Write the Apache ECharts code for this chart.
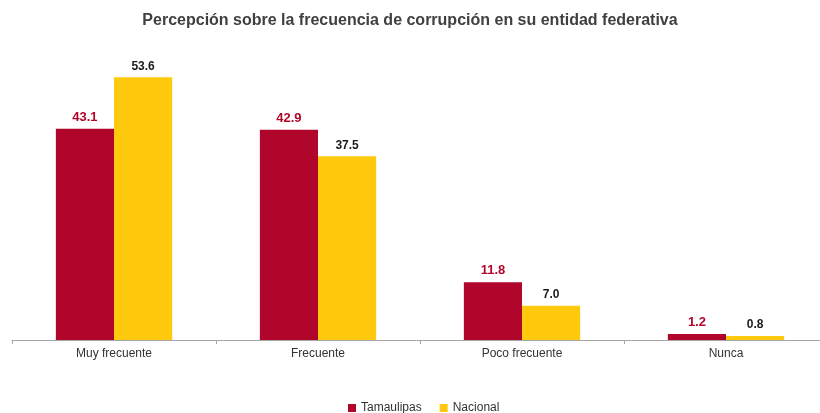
<!DOCTYPE html>
<html>
<head>
<meta charset="utf-8">
<script src="https://cdn.jsdelivr.net/npm/echarts@6/dist/echarts.min.js"></script>
<style>
  html, body { margin: 0; padding: 0; background: #fff; }
  #chart { width: 820px; height: 413px; }
</style>
</head>
<body>
<div id="chart"></div>
<script>
const categories = ['Muy frecuente', 'Frecuente', 'Poco frecuente', 'Nunca'];
const tamaulipas = [43.1, 42.9, 11.8, 1.2];
const nacional = [53.6, 37.5, 7.0, 0.8];

const chart = echarts.init(document.getElementById('chart'));

const fontFamily = '"Liberation Sans", Arial, sans-serif';

const option = {
  backgroundColor: '#ffffff',
  animation: false,
  textStyle: { fontFamily: fontFamily },
  title: {
    text: 'Percepción sobre la frecuencia de corrupción en su entidad federativa',
    left: 'center',
    top: 8,
    textStyle: { fontSize: 16, fontWeight: 'bold', color: '#404040', fontFamily: fontFamily }
  },
  legend: {
    top: 397,
    left: 343,
    itemWidth: 8,
    itemHeight: 8,
    itemGap: 18,
    icon: 'rect',
    textStyle: { fontSize: 12, color: '#333', fontFamily: fontFamily },
    data: ['Tamaulipas', 'Nacional']
  },
  grid: { left: 12, width: 816, top: 46, bottom: 73, outerBoundsMode: 'none' },
  xAxis: {
    type: 'category',
    data: categories,
    axisLine: { lineStyle: { color: '#a6a6a6' } },
    axisTick: { show: true, length: 4, lineStyle: { color: '#a6a6a6' } },
    axisLabel: { fontSize: 12, color: '#333', margin: 8, fontFamily: fontFamily }
  },
  yAxis: {
    type: 'value',
    min: 0,
    max: 60,
    show: false,
    splitLine: { show: false }
  },
  series: [
    {
      name: 'Tamaulipas',
      type: 'bar',
      data: tamaulipas,
      barGap: '0%',
      barCategoryGap: '43%',
      itemStyle: { color: '#b1062c' },
      label: {
        show: true,
        position: 'top',
        distance: 5,
        formatter: p => p.value.toFixed(1),
        fontSize: 13,
        fontWeight: 'bold',
        color: '#b1062c',
        fontFamily: fontFamily
      }
    },
    {
      name: 'Nacional',
      type: 'bar',
      data: nacional,
      itemStyle: { color: '#ffc90e' },
      label: {
        show: true,
        position: 'top',
        distance: 5,
        formatter: p => p.value.toFixed(1),
        fontSize: 12,
        fontWeight: 'bold',
        color: '#1a1a1a',
        fontFamily: fontFamily
      }
    }
  ]
};

chart.setOption(option);
</script>
</body>
</html>
